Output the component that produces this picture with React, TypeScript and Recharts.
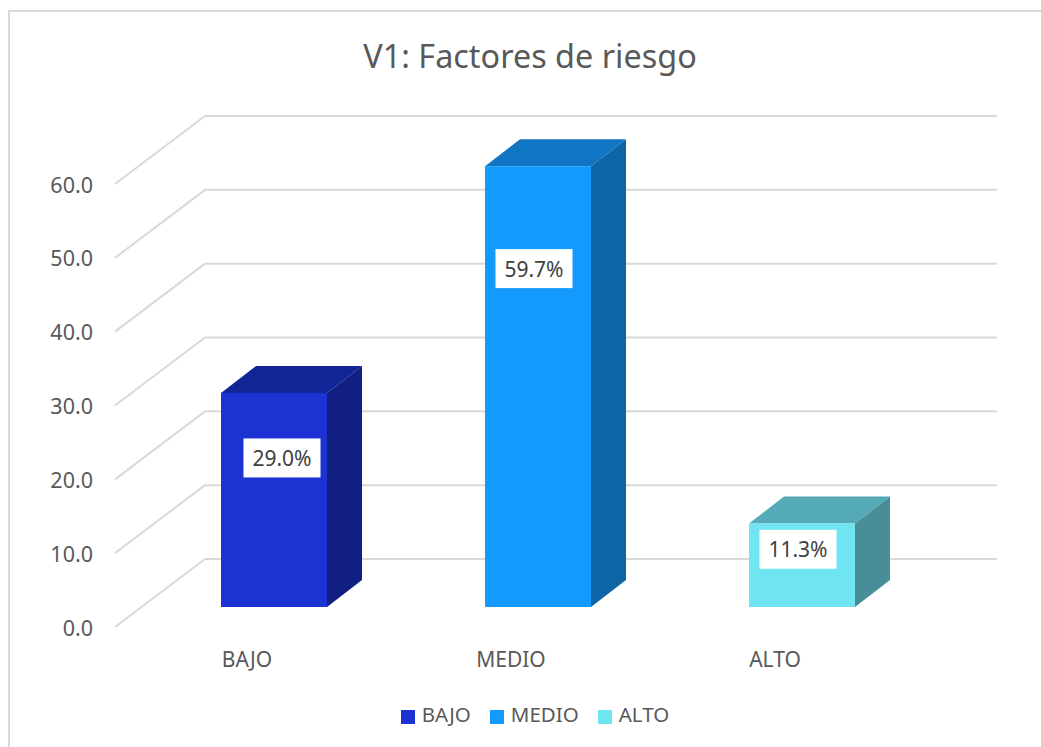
import React from "react";
import { BarChart, Bar, XAxis, YAxis, CartesianGrid, Legend, LabelList } from "recharts";

const categories = ["BAJO", "MEDIO", "ALTO"];
const bajoValues = [29.0, null, null];
const medioValues = [null, 59.7, null];
const altoValues = [null, null, 11.3];
const yTicks = [0, 10, 20, 30, 40, 50, 60];

const data = categories.map((name, i) => ({
  name,
  BAJO: bajoValues[i],
  MEDIO: medioValues[i],
  ALTO: altoValues[i],
}));

const FONT = "'Noto Sans', 'Open Sans', sans-serif";
const TEXT = "#595959";
const GRID = "#d9d9d9";

// the plot area is the back wall, bars stand nearer to the viewer
const WALL_DX = 90;
const WALL_DY = 68;
const BAR_DX = -63;
const BAR_DY = 48;
const DEPTH_X = 35;
const DEPTH_Y = 27;

// the data labels were moved by hand in the original
const labelPos: Record<string, { dx: number; dy: number }> = {
  BAJO: { dx: 8, dy: -42 },
  MEDIO: { dx: -4, dy: -118 },
  ALTO: { dx: -4, dy: -16 },
};

const Box3D = (props: any) => {
  const { x, y, width, height, front, top, side } = props;
  if (!height || height <= 0) return null;
  const l = x + BAR_DX;
  const r = l + width;
  const t = y + BAR_DY;
  const b = t + height;
  return (
    <g>
      <polygon points={`${l},${t} ${r},${t} ${r + DEPTH_X},${t - DEPTH_Y} ${l + DEPTH_X},${t - DEPTH_Y}`} fill={top} />
      <polygon points={`${r},${t} ${r + DEPTH_X},${t - DEPTH_Y} ${r + DEPTH_X},${b - DEPTH_Y} ${r},${b}`} fill={side} />
      <rect x={l} y={t} width={width} height={height} fill={front} />
    </g>
  );
};

const ValueLabel = (props: any) => {
  const { x, y, width, height, value, series } = props;
  if (value == null) return null;
  const pos = labelPos[series];
  const cx = x + BAR_DX + width / 2 + pos.dx;
  const cy = y + BAR_DY + height / 2 + pos.dy;
  return (
    <g>
      <rect x={cx - 38.5} y={cy - 19.5} width={77} height={39} fill="#fff" />
      <text x={cx} y={cy} textAnchor="middle" dominantBaseline="central" fontSize={21} fill="#404040" fontFamily={FONT}>
        {Number(value).toFixed(1)}%
      </text>
    </g>
  );
};

const WallTick = (props: any) => {
  const { x, y, payload } = props;
  return (
    <g>
      <line x1={x} y1={y} x2={x - WALL_DX} y2={y + WALL_DY} stroke={GRID} strokeWidth={2} />
      <text x={x - 112} y={y + WALL_DY} textAnchor="end" dominantBaseline="central" fontSize={21.5} fill={TEXT} fontFamily={FONT}>
        {payload.value.toFixed(1)}
      </text>
    </g>
  );
};

const CategoryTick = (props: any) => {
  const { x, payload } = props;
  return (
    <text x={x + BAR_DX - 27} y={659} textAnchor="middle" dominantBaseline="central" fontSize={21} fill={TEXT} fontFamily={FONT}>
      {payload.value}
    </text>
  );
};

export default function App() {
  return (
    <div style={{ position: "fixed", left: 0, top: 0, width: 1041, height: 747, overflow: "hidden", background: "#fff" }}>
      <div style={{ position: "absolute", left: 8, top: 10, width: 1060, height: 760, border: "2px solid #d9d9d9", boxSizing: "border-box" }} />
      <div style={{ position: "absolute", left: 0, top: 31, width: 1060, textAlign: "center", fontFamily: FONT, fontSize: 32.4, color: TEXT, lineHeight: "48px" }}>
        V1: Factores de riesgo
      </div>
      <BarChart
        width={1041}
        height={747}
        data={data}
        margin={{ top: 116, right: 44, bottom: 120, left: 0 }}
        style={{ position: "absolute", left: 0, top: 0 }}
      >
        <CartesianGrid vertical={false} stroke={GRID} strokeWidth={2} />
        <XAxis dataKey="name" axisLine={false} tickLine={false} tick={<CategoryTick />} height={40} />
        <YAxis domain={[0, 60]} ticks={yTicks} axisLine={false} tickLine={false} tickSize={0} tickMargin={0} tick={<WallTick />} width={205} />
        <Legend
          iconType="square"
          iconSize={14}
          verticalAlign="bottom"
          itemSorter={null}
          wrapperStyle={{ bottom: 19, left: 0, width: 1089, fontFamily: FONT, fontSize: 20.5 }}
          formatter={(v: any) => <span style={{ color: TEXT, marginLeft: 3, marginRight: 9 }}>{v}</span>}
        />
        <Bar dataKey="BAJO" stackId="a" barSize={106} fill="#1c32d2" isAnimationActive={false}
          shape={<Box3D front="#1c32d2" top="#122597" side="#111f82" />}>
          <LabelList dataKey="BAJO" content={<ValueLabel series="BAJO" />} />
        </Bar>
        <Bar dataKey="MEDIO" stackId="a" barSize={106} fill="#149aff" isAnimationActive={false}
          shape={<Box3D front="#149aff" top="#1076c4" side="#0d65a6" />}>
          <LabelList dataKey="MEDIO" content={<ValueLabel series="MEDIO" />} />
        </Bar>
        <Bar dataKey="ALTO" stackId="a" barSize={106} fill="#6fe5f2" isAnimationActive={false}
          shape={<Box3D front="#6fe5f2" top="#55aab8" side="#478e98" />}>
          <LabelList dataKey="ALTO" content={<ValueLabel series="ALTO" />} />
        </Bar>
      </BarChart>
    </div>
  );
}
